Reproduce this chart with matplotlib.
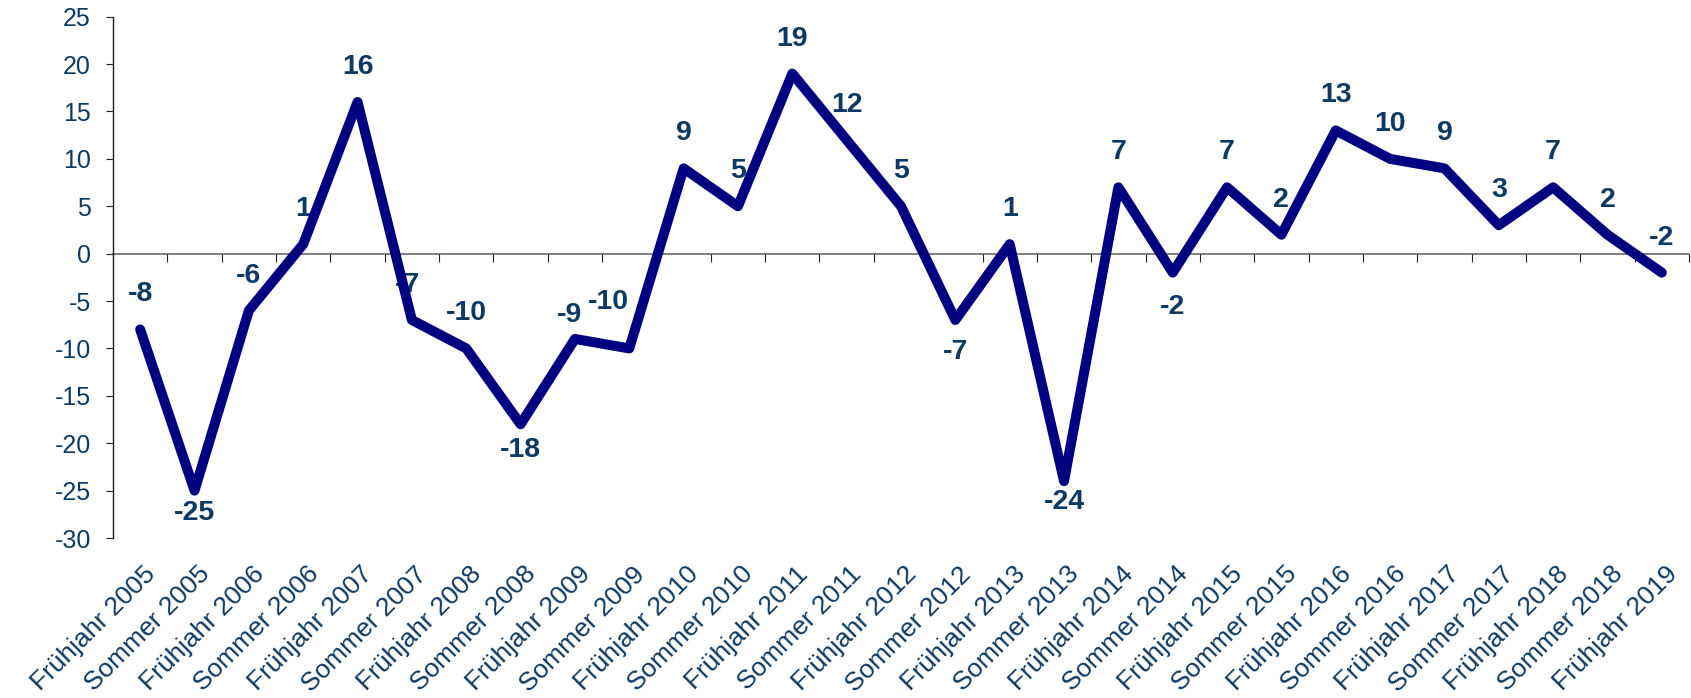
import matplotlib
matplotlib.use("Agg")
import matplotlib.pyplot as plt
from matplotlib.ticker import FixedLocator, MultipleLocator

plt.rcParams['font.family'] = ['Liberation Sans', 'DejaVu Sans']
plt.rcParams['axes.unicode_minus'] = False

categories = ["Frühjahr 2005", "Sommer 2005", "Frühjahr 2006", "Sommer 2006",
              "Frühjahr 2007", "Sommer 2007", "Frühjahr 2008", "Sommer 2008",
              "Frühjahr 2009", "Sommer 2009", "Frühjahr 2010", "Sommer 2010",
              "Frühjahr 2011", "Sommer 2011", "Frühjahr 2012", "Sommer 2012",
              "Frühjahr 2013", "Sommer 2013", "Frühjahr 2014", "Sommer 2014",
              "Frühjahr 2015", "Sommer 2015", "Frühjahr 2016", "Sommer 2016",
              "Frühjahr 2017", "Sommer 2017", "Frühjahr 2018", "Sommer 2018",
              "Frühjahr 2019"]
values = [-8, -25, -6, 1, 16, -7, -10, -18, -9, -10, 9, 5, 19, 12, 5, -7, 1,
          -24, 7, -2, 7, 2, 13, 10, 9, 3, 7, 2, -2]

# label offsets in pixels (dx, dy) relative to each point
label_offsets = [(0, 35)] * len(values)
label_offsets[1] = (0, -22)
label_offsets[5] = (-4, 35)
label_offsets[7] = (0, -26)
label_offsets[8] = (-5, 24)
label_offsets[9] = (-21, 46)
label_offsets[15] = (0, -32)
label_offsets[17] = (0, -21)
label_offsets[19] = (0, -34)

TEXT = '#0d3a63'
LINE = '#000080'

fig = plt.figure(figsize=(16.91, 6.98), dpi=100)
ax = fig.add_axes([113/1691, 1 - 538/698, (1689 - 113)/1691, (538 - 16.7)/698])

x = list(range(len(values)))
ax.plot(x, values, color=LINE, lw=7.2, solid_joinstyle='round',
        solid_capstyle='round', zorder=3, clip_on=False)

for xi, v, (dx, dy) in zip(x, values, label_offsets):
    ax.annotate(str(v), xy=(xi, v), xytext=(dx, dy), textcoords='offset pixels',
                ha='center', va='center', fontsize=20.5, fontweight='bold',
                color=TEXT, zorder=2)

ax.set_xlim(-0.5, len(values) - 0.5)
ax.set_ylim(-30, 25)
ax.yaxis.set_major_locator(MultipleLocator(5))
ax.xaxis.set_major_locator(FixedLocator([i - 0.5 for i in range(len(values) + 1)]))
ax.set_xticklabels([])

for s in ['top', 'right']:
    ax.spines[s].set_visible(False)
ax.spines['bottom'].set_position(('data', 0))
ax.spines['bottom'].set_color('#808080')
ax.spines['bottom'].set_linewidth(1.4)
ax.spines['bottom'].set_zorder(1)
ax.spines['left'].set_color('#222222')
ax.spines['left'].set_linewidth(1.0)

ax.tick_params(axis='y', direction='out', length=5, width=0.8, color='#222222',
               labelsize=18, labelcolor=TEXT, pad=11)
ax.tick_params(axis='x', direction='out', length=5.5, width=0.8, color='#222222')

for xi, c in zip(x, categories):
    ax.annotate(c, xy=(xi, 0), xycoords=('data', 'axes fraction'),
                xytext=(3, -24), textcoords='offset pixels',
                rotation=45, ha='right', va='top', rotation_mode='anchor',
                fontsize=19, color=TEXT, annotation_clip=False)

fig.savefig('out.png', dpi=100)
